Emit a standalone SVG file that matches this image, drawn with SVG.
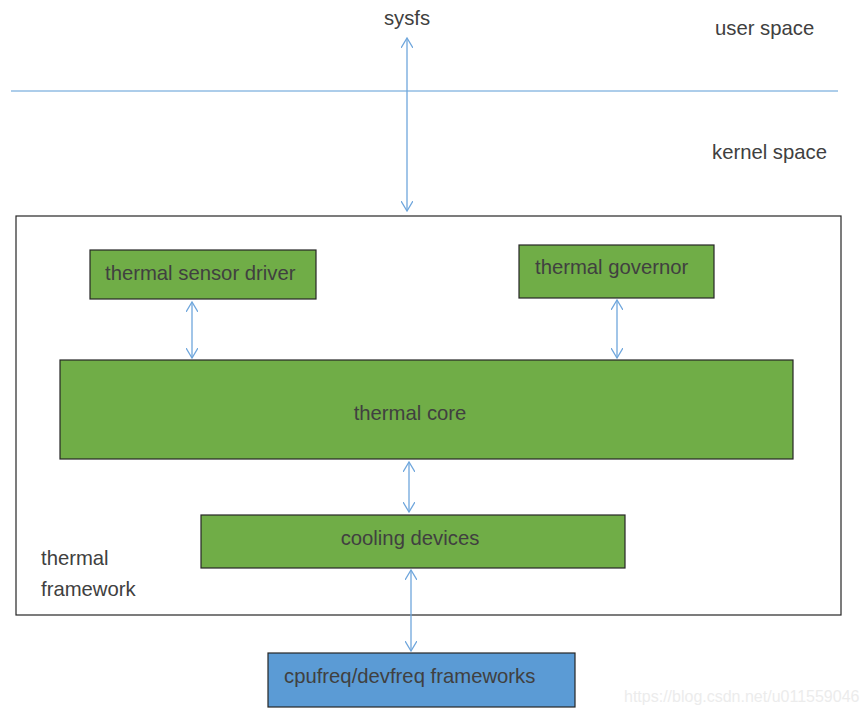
<svg xmlns="http://www.w3.org/2000/svg" width="868" height="717" viewBox="0 0 868 717">
<style>
.t{font-family:"Liberation Sans",Arial,sans-serif;font-size:20.3px;fill:#404040}
.g{fill:#70ad47;stroke:#262626;stroke-width:1.2}
.c{stroke:#6fa6dc;stroke-width:1.3;fill:none}
</style>
<defs>
<marker id="a" viewBox="0 0 12 12" refX="10" refY="6" markerWidth="12" markerHeight="12" markerUnits="userSpaceOnUse" orient="auto-start-reverse">
<polyline points="0,0 10,6 0,12" fill="none" stroke="#6fa6dc" stroke-width="1.3"/>
</marker>
</defs>
<rect width="868" height="717" fill="#fff"/>
<g id="labels">
<text class="t" x="407" y="25" text-anchor="middle">sysfs</text>
<text class="t" x="715" y="35">user space</text>
<text class="t" x="712" y="159">kernel space</text>
</g>
<line x1="11" y1="91" x2="838" y2="91" stroke="#5b9bd5" stroke-width="1"/>
<g id="frame">
<rect x="16" y="216" width="825" height="399" fill="none" stroke="#262626" stroke-width="1.2"/>
<text class="t" x="41" y="565">thermal</text>
<text class="t" x="41" y="596">framework</text>
</g>
<g id="sensor">
<rect class="g" x="90" y="250" width="226" height="49"/>
<text class="t" x="105" y="280">thermal sensor driver</text>
</g>
<g id="governor">
<rect class="g" x="519" y="245" width="195" height="53"/>
<text class="t" x="535" y="274">thermal governor</text>
</g>
<g id="core">
<rect class="g" x="60" y="360" width="733" height="99"/>
<text class="t" x="410" y="420" text-anchor="middle">thermal core</text>
</g>
<g id="cooling">
<rect class="g" x="201" y="515" width="424" height="53"/>
<text class="t" x="410" y="545" text-anchor="middle">cooling devices</text>
</g>
<g id="cpufreq">
<rect x="268" y="653" width="307" height="54" fill="#5b9bd5" stroke="#262626" stroke-width="1.2"/>
<text class="t" x="284" y="683">cpufreq/devfreq frameworks</text>
</g>
<g id="connectors">
<line class="c" x1="407" y1="38" x2="407" y2="211" marker-start="url(#a)" marker-end="url(#a)"/>
<line class="c" x1="192" y1="302" x2="192" y2="358" marker-start="url(#a)" marker-end="url(#a)"/>
<line class="c" x1="617" y1="300" x2="617" y2="358" marker-start="url(#a)" marker-end="url(#a)"/>
<line class="c" x1="409" y1="462" x2="409" y2="512" marker-start="url(#a)" marker-end="url(#a)"/>
<line class="c" x1="411" y1="570" x2="411" y2="651" marker-start="url(#a)" marker-end="url(#a)"/>
</g>
<text x="624" y="702" style="font-family:'Liberation Sans',Arial,sans-serif;font-size:16px;fill:#ececec">https://blog.csdn.net/u011559046</text>
</svg>
